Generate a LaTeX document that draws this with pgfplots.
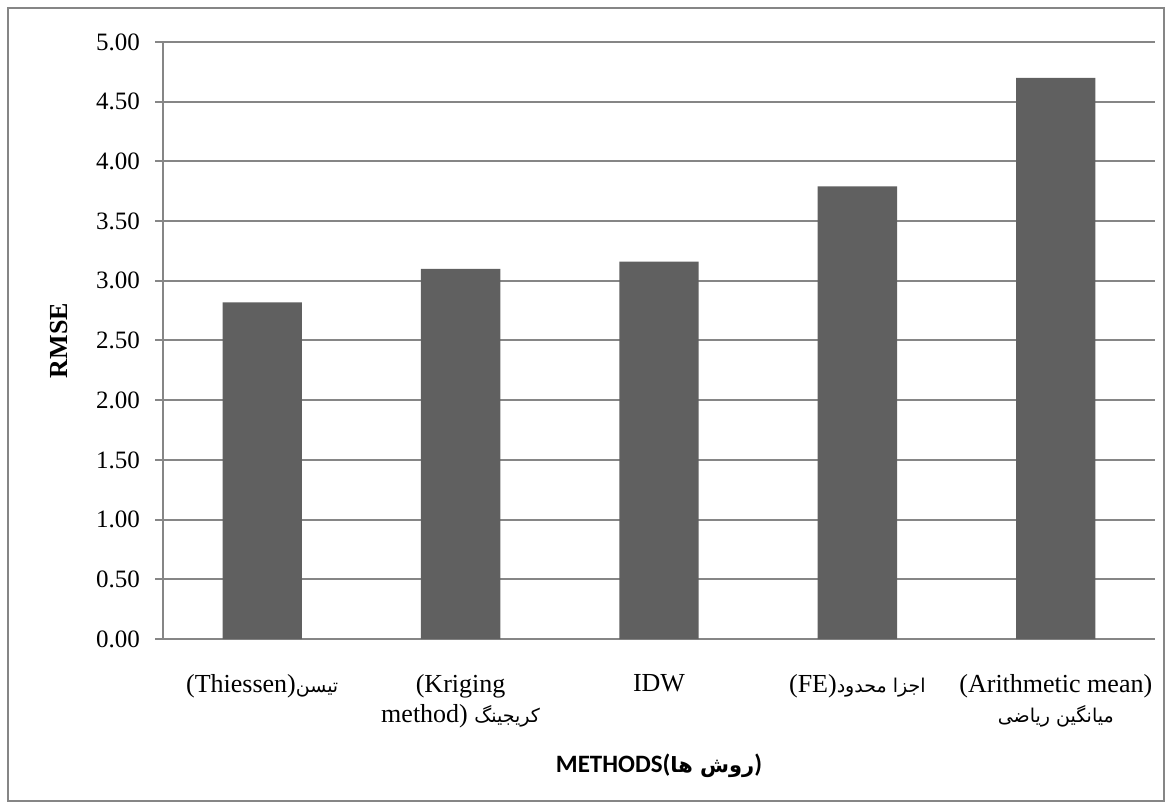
\documentclass[border=0pt]{standalone}
\usepackage{pgfplots}
\pgfplotsset{compat=1.18}
\usepackage{fontspec}
\setmainfont{Liberation Serif}
\newfontfamily\arabicfont[Script=Arabic]{DejaVu Sans}
\newfontfamily\labelsans{Carlito}
\TeXXeTstate=1
\definecolor{barfill}{HTML}{606060}
\definecolor{gridgray}{HTML}{868686}
% font switches for the Persian words
\newcommand{\fa}{\arabicfont\fontsize{9.5}{12}\selectfont}
\newcommand{\fab}{\arabicfont\bfseries\fontsize{10.5}{12}\selectfont}

\begin{document}
\begin{tikzpicture}
\path[use as bounding box] (0,0) rectangle (586.5pt,404.5pt);
\draw[gridgray, line width=1pt] (4pt,4pt) rectangle (582pt,400.5pt);
\begin{axis}[
  at={(81.5pt,85pt)}, anchor=south west,
  scale only axis, width=496pt, height=298.5pt,
  xmin=-0.5, xmax=4.5, ymin=0, ymax=5,
  axis x line*=bottom, axis y line*=left,
  axis line style={gridgray, line width=1pt},
  ymajorgrids, grid style={gridgray, line width=1pt},
  ytick={0,0.5,1,1.5,2,2.5,3,3.5,4,4.5,5},
  ytick style={gridgray, line width=1pt},
  tick align=outside, major tick length=4pt,
  xtick={0,1,2,3,4}, xtick style={draw=none},
  /pgf/number format/assume math mode=true,
  yticklabel style={font=\fontsize{12.5}{15}\selectfont,
    /pgf/number format/fixed, /pgf/number format/fixed zerofill,
    /pgf/number format/precision=2, xshift=-4pt},
  x tick label style={font=\fontsize{13}{15}\selectfont, align=center, anchor=north, yshift=-10pt},
  xticklabels={
    {(Thiessen){\fa\beginR تیسن\endR}},
    {(Kriging\\method) {\fa\beginR کریجینگ\endR}},
    {IDW},
    {(FE){\fa\beginR اجزا محدود\endR}},
    {(Arithmetic mean)\\{\fa\beginR میانگین ریاضی\endR}}
  },
  xlabel={{\labelsans\bfseries\fontsize{12.5}{15}\selectfont METHODS({\fab\beginR روش ها\endR})}},
  xlabel style={at={(axis description cs:0.5,0)}, anchor=base, yshift=-66.5pt},
  ylabel={\bfseries\fontsize{13}{15}\selectfont RMSE},
  ylabel style={at={(axis description cs:-0.1048,0.5)}, anchor=center, rotate=0},
]
\addplot[ybar, bar width=0.4, fill=barfill, draw=none]
  coordinates {(0,2.82) (1,3.10) (2,3.16) (3,3.79) (4,4.70)};
\end{axis}
\end{tikzpicture}
\end{document}
